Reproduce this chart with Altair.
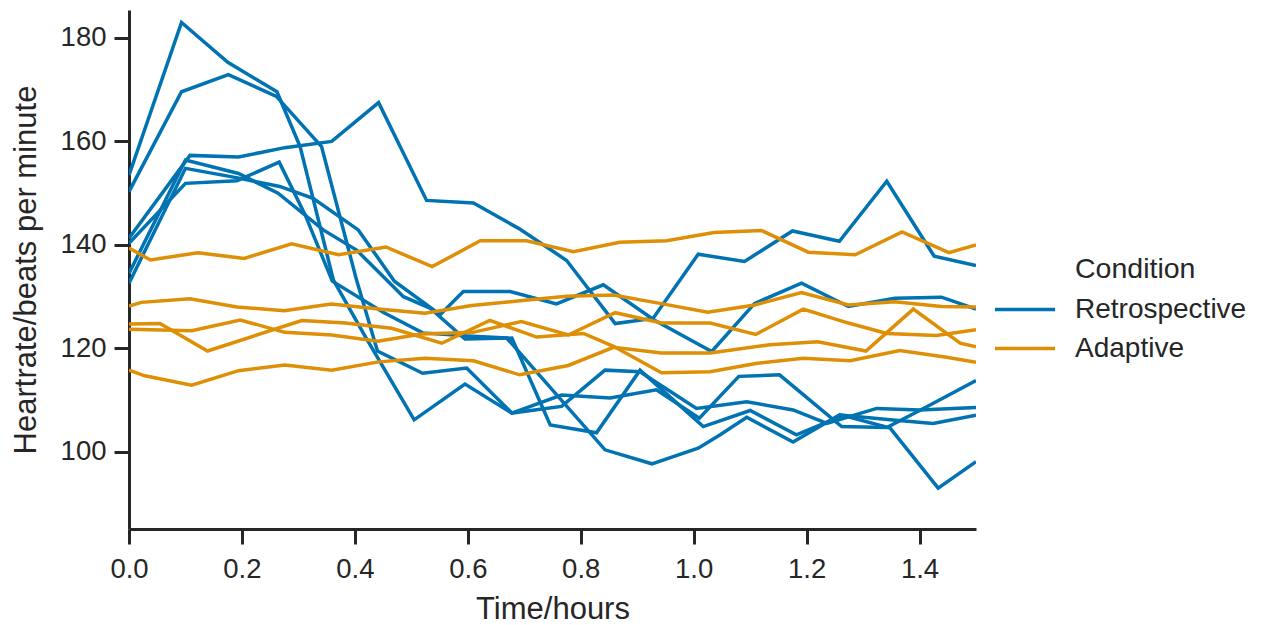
import altair as alt
import pandas as pd

conditions = ["Retrospective", "Adaptive"]
colors = ["#0173b2", "#de8f05"]

# ---- Retrospective subjects (time in hours, heart rate in bpm) ----
r1_t = [0, 0.093, 0.175, 0.262, 0.303, 0.362, 0.42, 0.505, 0.595, 0.678, 0.766, 0.852, 0.934, 1.01, 1.08, 1.152, 1.262, 1.342, 1.407, 1.5]
r1_v = [153.5, 183.0, 175.3, 169.6, 159.0, 133.2, 122.0, 106.2, 113.1, 107.5, 111.0, 110.4, 112.0, 106.5, 114.6, 114.9, 104.9, 104.7, 108.4, 113.8]

r2_t = [0, 0.093, 0.176, 0.261, 0.341, 0.403, 0.44, 0.52, 0.598, 0.678, 0.766, 0.843, 0.905, 1.005, 1.094, 1.176, 1.236, 1.324, 1.4, 1.5]
r2_v = [150.3, 169.6, 172.9, 168.7, 159.0, 133.2, 119.5, 115.2, 116.2, 107.5, 108.8, 115.8, 115.5, 108.4, 109.7, 108.1, 105.5, 108.4, 108.1, 108.6]

r3_t = [0, 0.108, 0.194, 0.276, 0.359, 0.442, 0.527, 0.61, 0.69, 0.775, 0.861, 0.928, 1.008, 1.09, 1.175, 1.258, 1.342, 1.426, 1.5]
r3_v = [141.3, 157.3, 157.0, 158.8, 160.0, 167.5, 148.6, 148.1, 143.2, 137.0, 124.8, 125.8, 138.2, 136.8, 142.7, 140.7, 152.3, 137.8, 136.0]

r4_t = [0, 0.1, 0.194, 0.264, 0.344, 0.403, 0.486, 0.533, 0.595, 0.678, 0.746, 0.828, 0.905, 1.017, 1.1, 1.182, 1.265, 1.348, 1.424, 1.5]
r4_v = [134.5, 156.4, 153.8, 150.0, 142.9, 139.0, 130.0, 127.8, 121.8, 122.0, 105.2, 103.7, 115.8, 104.9, 108.0, 103.3, 107.1, 106.2, 105.5, 107.1]

r5_t = [0, 0.1, 0.19, 0.267, 0.326, 0.406, 0.47, 0.551, 0.592, 0.675, 0.757, 0.84, 0.93, 1.032, 1.108, 1.191, 1.274, 1.356, 1.439, 1.5]
r5_v = [132.6, 154.8, 153.0, 151.3, 149.0, 142.9, 133.0, 126.5, 131.0, 131.0, 128.6, 132.3, 125.5, 119.4, 128.7, 132.6, 128.1, 129.7, 129.9, 127.6]

r6_t = [0, 0.1, 0.191, 0.266, 0.312, 0.36, 0.45, 0.52, 0.6, 0.669, 0.843, 0.926, 1.008, 1.047, 1.094, 1.176, 1.259, 1.348, 1.433, 1.5]
r6_v = [140.3, 151.9, 152.4, 156.0, 145.8, 133.0, 127.0, 123.0, 122.4, 122.0, 100.4, 97.7, 100.7, 103.3, 106.7, 101.9, 107.2, 104.6, 93.0, 98.1]

# ---- Adaptive subjects ----
a1_t = [0, 0.038, 0.122, 0.204, 0.288, 0.371, 0.455, 0.537, 0.622, 0.704, 0.787, 0.869, 0.952, 1.036, 1.12, 1.203, 1.286, 1.369, 1.452, 1.5]
a1_v = [139.4, 137.1, 138.5, 137.4, 140.2, 138.1, 139.6, 135.8, 140.8, 140.8, 138.7, 140.5, 140.8, 142.4, 142.8, 138.6, 138.1, 142.5, 138.5, 140.0]

a2_t = [0, 0.022, 0.108, 0.191, 0.275, 0.358, 0.442, 0.524, 0.607, 0.692, 0.775, 0.858, 0.94, 1.025, 1.108, 1.191, 1.274, 1.356, 1.439, 1.5]
a2_v = [128.2, 128.9, 129.6, 128.0, 127.3, 128.6, 127.6, 126.8, 128.3, 129.2, 130.1, 130.3, 128.7, 127.0, 128.4, 130.8, 128.4, 129.0, 128.1, 128.0]

a3_t = [0, 0.055, 0.139, 0.306, 0.383, 0.465, 0.554, 0.639, 0.722, 0.805, 0.858, 0.943, 1.029, 1.11, 1.194, 1.277, 1.365, 1.448, 1.5]
a3_v = [124.7, 124.8, 119.5, 125.4, 124.9, 123.9, 121.0, 125.4, 122.2, 122.9, 120.4, 115.3, 115.5, 117.1, 118.1, 117.6, 119.6, 118.3, 117.3]

a4_t = [0, 0.111, 0.197, 0.276, 0.359, 0.441, 0.518, 0.609, 0.695, 0.778, 0.861, 0.943, 1.029, 1.11, 1.194, 1.274, 1.342, 1.43, 1.5]
a4_v = [123.7, 123.4, 125.5, 123.1, 122.6, 121.4, 122.8, 123.1, 125.2, 122.6, 126.9, 124.9, 124.9, 122.7, 127.6, 124.9, 122.9, 122.5, 123.6]

a5_t = [0, 0.028, 0.111, 0.194, 0.276, 0.359, 0.442, 0.524, 0.61, 0.692, 0.778, 0.858, 0.943, 1.029, 1.135, 1.22, 1.305, 1.389, 1.472, 1.5]
a5_v = [115.8, 114.7, 112.9, 115.7, 116.8, 115.8, 117.4, 118.1, 117.6, 114.9, 116.7, 120.2, 119.1, 119.1, 120.7, 121.3, 119.5, 127.6, 121.0, 120.3]

x_ticks = [0.0, 0.2, 0.4, 0.6, 0.8, 1.0, 1.2, 1.4]
y_ticks = [100, 120, 140, 160, 180]

series = [
    ("r1", "Retrospective", r1_t, r1_v),
    ("r2", "Retrospective", r2_t, r2_v),
    ("r3", "Retrospective", r3_t, r3_v),
    ("r4", "Retrospective", r4_t, r4_v),
    ("r5", "Retrospective", r5_t, r5_v),
    ("r6", "Retrospective", r6_t, r6_v),
    ("a1", "Adaptive", a1_t, a1_v),
    ("a2", "Adaptive", a2_t, a2_v),
    ("a3", "Adaptive", a3_t, a3_v),
    ("a4", "Adaptive", a4_t, a4_v),
    ("a5", "Adaptive", a5_t, a5_v),
]

rows = []
for sid, cond, ts, vs in series:
    for i, (t, v) in enumerate(zip(ts, vs)):
        rows.append({"subject": sid, "Condition": cond, "time": t, "hr": v, "order": i})
df = pd.DataFrame(rows)

TEXT = "#262626"
FONT = "Liberation Sans"

chart = (
    alt.Chart(df)
    .mark_line(strokeWidth=3.5, clip=True)
    .encode(
        x=alt.X(
            "time:Q",
            scale=alt.Scale(domain=[0, 1.5], nice=False, zero=False),
            axis=alt.Axis(title="Time/hours", values=x_ticks, format=".1f",
                          labelFlush=False, labelPadding=11, titlePadding=12,
                          titleFontSize=31),
        ),
        y=alt.Y(
            "hr:Q",
            scale=alt.Scale(domain=[85.1, 185.4], nice=False, zero=False),
            axis=alt.Axis(title="Heartrate/beats per minute", values=y_ticks,
                          format="d", titlePadding=18, titleFontSize=31),
        ),
        color=alt.Color(
            "Condition:N",
            scale=alt.Scale(domain=conditions, range=colors),
            legend=alt.Legend(
                title="Condition",
                orient="none",
                legendX=946,
                legendY=245,
                symbolType="M-3,0H3",
                symbolSize=400,
                symbolStrokeWidth=3.5,
                symbolOffset={"expr": "-64"},
                rowPadding=11,
                labelOffset=36,
                labelLimit=0,
                titleLimit=0,
                titlePadding=12,
                titleAnchor="start",
                padding=0,
                labelFontSize=28,
                titleFontSize=28.5,
                titleFontWeight="normal",
                labelColor=TEXT,
                titleColor=TEXT,
                labelFont=FONT,
                titleFont=FONT,
            ),
        ),
        detail="subject:N",
        order="order:Q",
    )
    .properties(
        width=847,
        height=519,
        autosize=alt.AutoSizeParams(type="none"),
        padding={"left": 121, "top": 2, "right": 277, "bottom": 96},
    )
    .configure_view(stroke=None)
    .configure_axis(
        grid=False,
        domainColor=TEXT,
        domainWidth=3,
        tickColor=TEXT,
        tickWidth=3,
        tickSize=15,
        labelPadding=8,
        labelFontSize=27.5,
        titleFontSize=30,
        titleFontWeight="normal",
        labelColor=TEXT,
        titleColor=TEXT,
        labelFont=FONT,
        titleFont=FONT,
    )
)

chart.save("out.html", embed_options={"renderer": "svg", "actions": False})
